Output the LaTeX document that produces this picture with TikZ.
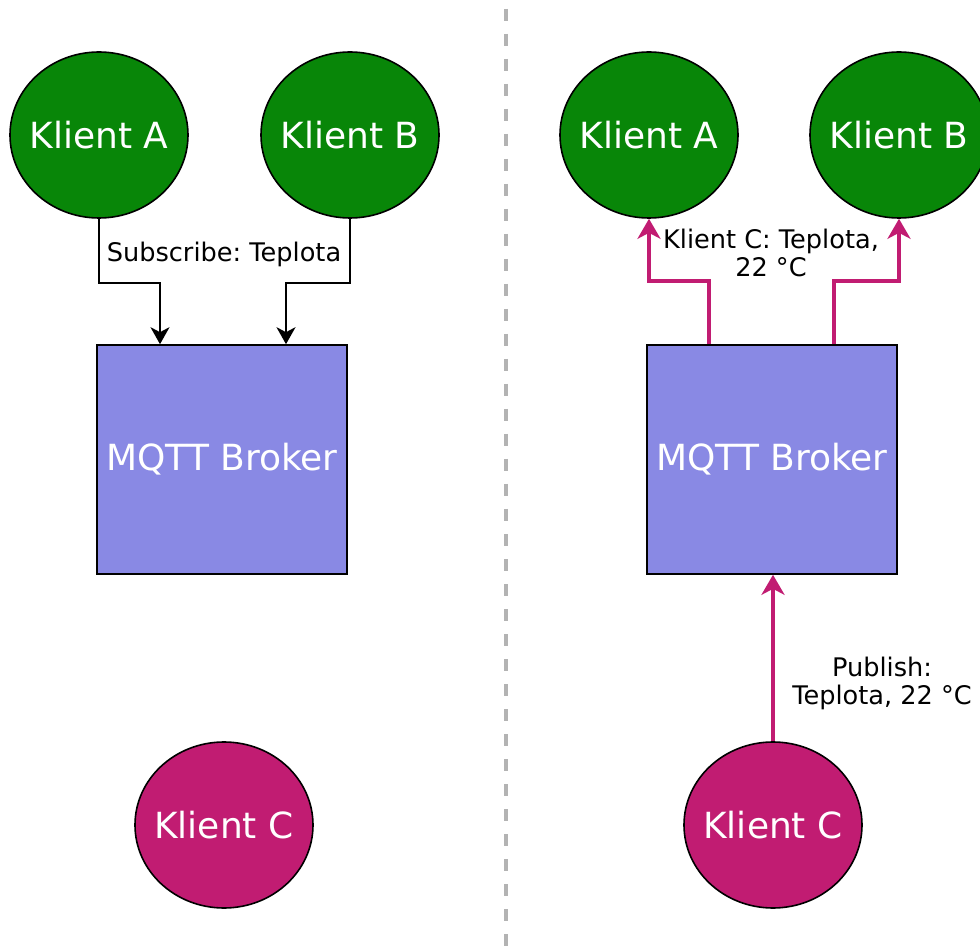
\documentclass[tikz,border=0pt]{standalone}
\usepackage{fontspec}
\setmainfont{DejaVu Sans}
\usetikzlibrary{shapes.geometric,arrows.meta}
\definecolor{kgreen}{RGB}{8,134,8}
\definecolor{kviolet}{RGB}{137,137,228}
\definecolor{kmag}{RGB}{193,28,114}
\definecolor{kgray}{RGB}{179,179,179}
\frenchspacing
\newcommand{\zbox}[1]{\makebox[0pt]{#1}}
\tikzset{
  client/.style={ellipse,draw=black,line width=0.8pt,minimum width=89pt,minimum height=83pt,inner sep=0pt,text=white,font=\fontsize{18pt}{21pt}\selectfont},
  greenclient/.style={client,fill=kgreen},
  magclient/.style={client,fill=kmag},
  broker/.style={rectangle,draw=black,line width=0.8pt,fill=kviolet,minimum width=125pt,minimum height=114.5pt,inner sep=0pt,text=white,font=\fontsize{18pt}{21pt}\selectfont},
  sub/.style={draw=black,line width=1pt,-{Stealth[length=8.5pt,width=9.5pt,inset=2.5pt]}},
  pub/.style={draw=kmag,line width=2pt,-{Stealth[length=10pt,width=11.5pt,inset=3pt]}},
  lbl/.style={font=\fontsize{12.8pt}{14pt}\selectfont\frenchspacing,align=center,inner sep=1pt,fill=white},
}
\begin{document}
\begin{tikzpicture}[x=0.5pt,y=-0.5pt]
\useasboundingbox (0,0) rectangle (980,946);
\clip (0,0) rectangle (980,946);
\fill[white] (0,0) rectangle (980,946);
% divider
\coordinate (dtop) at (505.5,0);
\coordinate (dbot) at (505.5,946);
\draw[kgray,line width=2pt,dash pattern=on 6pt off 6.5pt,dash phase=-4.5pt] (dtop) -- (dbot);
% left side
\node[greenclient] (la) at (99,135) {\zbox{Klient A}};
\node[greenclient] (lb) at (350,135) {\zbox{Klient B}};
\node[broker] (lbr) at (222,459.5) {MQTT Broker};
\node[magclient] (lc) at (224,825) {\zbox{Klient C}};
\draw[sub] (la.south) -- ++(0,64) -| ([xshift=-31pt]lbr.north);
\draw[sub] (lb.south) -- ++(0,64) -| ([xshift=32pt]lbr.north);
\node[lbl] (lsub) at (224,254) {Subscribe: Teplota};
% right side
\node[greenclient] (ra) at (649,135) {\zbox{Klient A}};
\node[greenclient] (rb) at (899,135) {\zbox{Klient B}};
\node[broker] (rbr) at (772,459.5) {MQTT Broker};
\node[magclient] (rc) at (773,825) {\zbox{Klient C}};
\draw[pub] ([xshift=-31.5pt]rbr.north) -- ++(0,-63) -| (ra.south);
\draw[pub] ([xshift=31pt]rbr.north) -- ++(0,-63) -| (rb.south);
\draw[pub] (rc.north) -- (rc.north |- rbr.south);
\node[lbl] (rlab) at (771,253) {Klient C: Teplota,\\22 °C};
\node[lbl] (plab) at (882,683) {Publish:\\Teplota, 22 °C};
\end{tikzpicture}
\end{document}
